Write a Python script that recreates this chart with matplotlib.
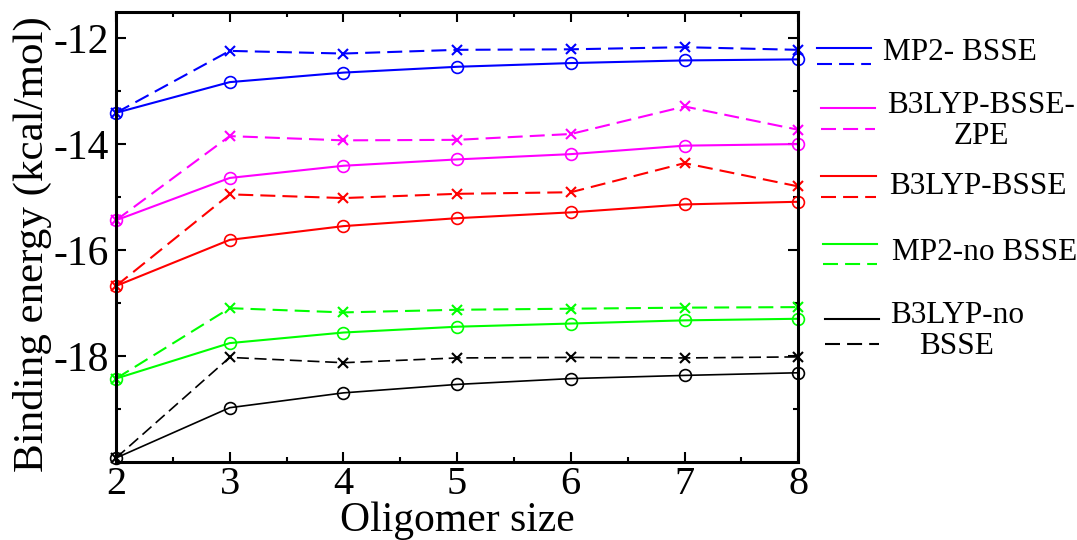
import matplotlib
matplotlib.use("Agg")
import matplotlib.pyplot as plt
from matplotlib.lines import Line2D

plt.rcParams['font.family'] = ['Liberation Serif', 'DejaVu Serif']
plt.rcParams['axes.unicode_minus'] = False

size = [2, 3, 4, 5, 6, 7, 8]

# circles = solid lines, crosses = dashed lines
mp2_bsse_o = [-13.41, -12.83, -12.65, -12.54, -12.47, -12.42, -12.40]
mp2_bsse_x = [-13.41, -12.24, -12.29, -12.22, -12.21, -12.17, -12.22]
b3lyp_zpe_o = [-15.44, -14.64, -14.41, -14.29, -14.19, -14.03, -14.00]
b3lyp_zpe_x = [-15.44, -13.85, -13.93, -13.92, -13.81, -13.29, -13.73]
b3lyp_bsse_o = [-16.68, -15.81, -15.55, -15.40, -15.29, -15.14, -15.09]
b3lyp_bsse_x = [-16.68, -14.95, -15.02, -14.94, -14.91, -14.36, -14.80]
mp2_nobsse_o = [-18.43, -17.76, -17.56, -17.45, -17.39, -17.33, -17.30]
mp2_nobsse_x = [-18.43, -17.10, -17.18, -17.13, -17.11, -17.09, -17.08]
b3lyp_nobsse_o = [-19.93, -18.98, -18.70, -18.54, -18.43, -18.37, -18.32]
b3lyp_nobsse_x = [-19.93, -18.03, -18.13, -18.04, -18.03, -18.04, -18.02]

labels = ['MP2- BSSE', 'B3LYP-BSSE-\nZPE', 'B3LYP-BSSE', 'MP2-no BSSE', 'B3LYP-no\nBSSE']
colors = ['#0000ff', '#ff00ff', '#ff0000', '#00ff00', '#000000']
series = [(mp2_bsse_o, mp2_bsse_x), (b3lyp_zpe_o, b3lyp_zpe_x),
          (b3lyp_bsse_o, b3lyp_bsse_x), (mp2_nobsse_o, mp2_nobsse_x),
          (b3lyp_nobsse_o, b3lyp_nobsse_x)]
dash = (0, (7.2, 3.4))

fig = plt.figure(figsize=(10.77, 5.4), dpi=100)
ax = fig.add_axes([0.1077, 0.145, 0.6335, 0.8333])

for (yo, yx), c in zip(series, colors):
    lw = 1.2 if c == '#000000' else 1.5
    ax.plot(size, yx, color=c, lw=lw, ls=dash, marker='x', ms=7,
            mew=1.5, clip_on=False)
    ax.plot(size, yo, color=c, lw=lw, marker='o', ms=8.5, mfc='none',
            mew=1.2, clip_on=False)

ax.set_xlim(2, 8)
ax.set_ylim(-20, -11.5)
ax.set_xticks(size)
ax.set_xticks([2.5, 3.5, 4.5, 5.5, 6.5, 7.5], minor=True)
ax.set_yticks([-18, -16, -14, -12])
ax.set_yticks([-19, -17, -15, -13], minor=True)
ax.tick_params(which='both', direction='in', top=True, right=True,
               width=1.5, labelsize=30)
ax.tick_params(which='major', length=7)
ax.tick_params(which='minor', length=3.5)
ax.tick_params(axis='y', pad=5)
ax.tick_params(axis='x', pad=3, labelsize=29)
for sp in ax.spines.values():
    sp.set_linewidth(2.2)

ax.set_xlabel('Oligomer size', fontsize=30, labelpad=-1)
ax.set_ylabel('Binding energy (kcal/mol)', fontsize=31)
ax.yaxis.set_label_coords(-0.094, 0.4838)

# legend drawn by hand: solid over dashed, label on the right
W, H = 1077.0, 540.0
leg = [  # x0, x1, y solid, y dashed, text x, text y (pixels from top-left)
    (817, 871, 48, 64, 883, 53),
    (821, 875, 108, 129, 887, 121),
    (821, 876, 176, 197, 889, 186),
    (823, 877, 244, 264, 892, 253),
    (825, 879, 319, 344, 890, 331),
]
for (x0, x1, ys, yd, tx, ty), c, lab in zip(leg, colors, labels):
    fig.add_artist(Line2D([x0 / W, x1 / W], [1 - ys / H, 1 - ys / H],
                          color=c, lw=1.5))
    fig.add_artist(Line2D([x0 / W, x1 / W], [1 - yd / H, 1 - yd / H],
                          color=c, lw=1.5, ls=dash))
    fig.text(tx / W, 1 - ty / H, lab, fontsize=22.5, ha='left', va='center',
             multialignment='center', linespacing=1.1)

fig.savefig('out.png', dpi=100)
